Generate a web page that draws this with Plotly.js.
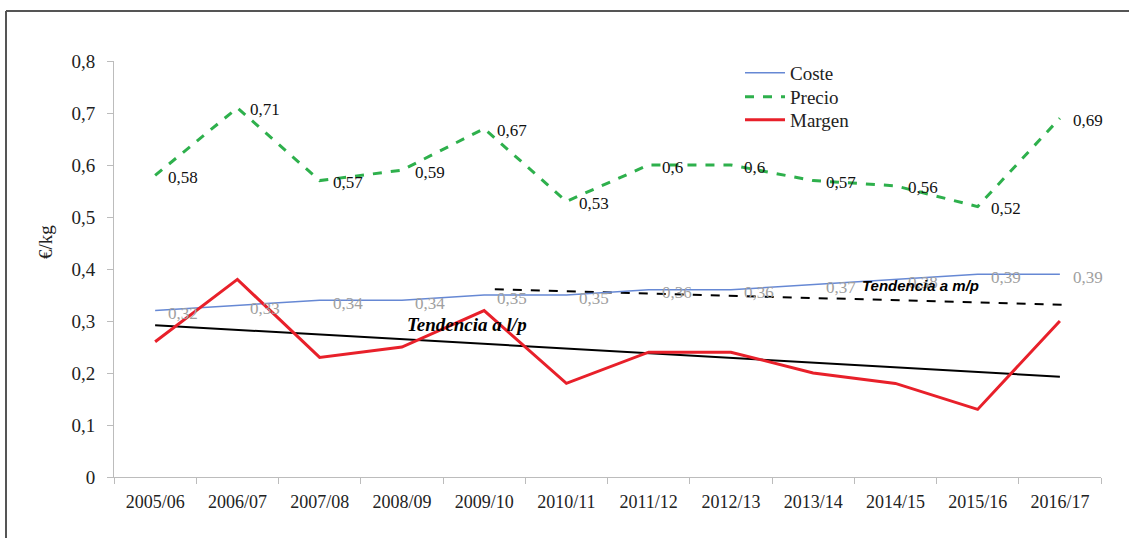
<!DOCTYPE html>
<html>
<head>
<meta charset="utf-8">
<script src="https://cdn.plot.ly/plotly-3.0.1.min.js"></script>
<style>
html,body{margin:0;padding:0;background:#fff;}
#chart{width:1129px;height:538px;}
</style>
</head>
<body>
<div id="chart"></div>
<script>
// ---- data ----
const categories = ["2005/06","2006/07","2007/08","2008/09","2009/10","2010/11","2011/12","2012/13","2013/14","2014/15","2015/16","2016/17"];
const coste  = [0.32,0.33,0.34,0.34,0.35,0.35,0.36,0.36,0.37,0.38,0.39,0.39];
const precio = [0.58,0.71,0.57,0.59,0.67,0.53,0.60,0.60,0.57,0.56,0.52,0.69];
const margen = [0.26,0.38,0.23,0.25,0.32,0.18,0.24,0.24,0.20,0.18,0.13,0.30];
const costeLabels  = ["0,32","0,33","0,34","0,34","0,35","0,35","0,36","0,36","0,37","0,38","0,39","0,39"];
const precioLabels = ["0,58","0,71","0,57","0,59","0,67","0,53","0,6","0,6","0,57","0,56","0,52","0,69"];
// trend lines (positions in category index units)
const trendLPx = [0, 11];
const trendLPy = [0.292, 0.193];
const trendMPx = [4.13, 11.07];
const trendMPy = [0.361, 0.331];
const yTicks = [0,0.1,0.2,0.3,0.4,0.5,0.6,0.7,0.8];

const idx = categories.map((c,i)=>i);
const serif = "Liberation Serif, Times New Roman, serif";

const traces = [
  {x: trendLPx, y: trendLPy, mode:'lines', line:{color:'#000', width:2}, showlegend:false, hoverinfo:'skip'},
  {x: trendMPx, y: trendMPy, mode:'lines', line:{color:'#000', width:2, dash:'dash'}, showlegend:false, hoverinfo:'skip'},
  {x: idx, y: coste, name:'Coste', mode:'lines', line:{color:'#6688d4', width:1.5}, legend:'legend'},
  {x: idx, y: precio, name:'Precio', mode:'lines', line:{color:'#2eb04c', width:3, dash:'dash'}, legend:'legend2'},
  {x: idx, y: margen, name:'Margen', mode:'lines', line:{color:'#e8202a', width:3}, legend:'legend3'}
];

const annotations = [];
idx.forEach(i=>{
  annotations.push({x:i, y:coste[i], xref:'x', yref:'y', text:costeLabels[i], showarrow:false,
    xanchor:'left', yanchor:'middle', xshift:11, yshift:-3, font:{family:serif, size:17, color:'#a0a0a0'}});
  annotations.push({x:i, y:precio[i], xref:'x', yref:'y', text:precioLabels[i], showarrow:false,
    xanchor:'left', yanchor:'middle', xshift:11, yshift:-2, font:{family:serif, size:17, color:'#111'}});
});
annotations.push({x:3.79, y:0.293, xref:'x', yref:'y', text:'<b><i>Tendencia a l/p</i></b>', showarrow:false,
  xanchor:'center', yanchor:'middle', font:{family:serif, size:19, color:'#000'}});
annotations.push({x:9.31, y:0.369, xref:'x', yref:'y', text:'<b><i>Tendencia a m/p</i></b>', showarrow:false,
  xanchor:'center', yanchor:'middle', font:{family:'Liberation Sans, Arial, sans-serif', size:15, color:'#000'}});

const px2x = p => (p-114)/987;
const py2y = p => (477-p)/416;

annotations.push({x:px2x(45), y:py2y(242), xref:'paper', yref:'paper', text:'€/kg', showarrow:false,
  textangle:-90, xanchor:'center', yanchor:'middle', font:{family:serif, size:19, color:'#222'}});

const legFont = {family:serif, size:19, color:'#222'};
const legBase = {xanchor:'left', yanchor:'middle', bgcolor:'rgba(0,0,0,0)', font:legFont, itemwidth:40, borderwidth:0};

const layout = {
  width:1129, height:538,
  margin:{l:114, r:28, t:61, b:61, pad:0},
  paper_bgcolor:'#fff', plot_bgcolor:'#fff',
  separators:',.',
  font:{family:serif, size:15, color:'#222'},
  showlegend:true,
  legend: Object.assign({}, legBase, {x:px2x(740), y:py2y(73)}),
  legend2: Object.assign({}, legBase, {x:px2x(740), y:py2y(97)}),
  legend3: Object.assign({}, legBase, {x:px2x(740), y:py2y(120)}),
  xaxis:{range:[-0.5,11.5], tickmode:'array', tickvals:idx, ticktext:categories, ticks:'',
    showgrid:false, zeroline:false, showline:true, linecolor:'#bcbcbc', linewidth:1,
    ticklabelstandoff:8,
    tickfont:{family:serif, size:18, color:'#222'}, fixedrange:true,
    minor:{tickmode:'linear', tick0:-0.5, dtick:1, ticks:'outside', ticklen:6, tickcolor:'#bcbcbc', tickwidth:1, showgrid:false}},
  yaxis:{range:[0,0.8], tickmode:'array', tickvals:yTicks, ticks:'outside', ticklen:6, tickcolor:'#bcbcbc',
    showgrid:false, zeroline:false, showline:true, linecolor:'#bcbcbc', linewidth:1,
    ticklabelstandoff:8,
    tickfont:{family:serif, size:19, color:'#222'}},
  annotations: annotations,
  shapes:[
    {type:'line', xref:'paper', yref:'paper', x0:px2x(6), x1:px2x(1140), y0:py2y(11), y1:py2y(11), line:{color:'#555', width:2}},
    {type:'line', xref:'paper', yref:'paper', x0:px2x(6), x1:px2x(6), y0:py2y(11), y1:py2y(545), line:{color:'#555', width:2}}
  ]
};

Plotly.newPlot('chart', traces, layout, {displayModeBar:false, staticPlot:true});
</script>
</body>
</html>
